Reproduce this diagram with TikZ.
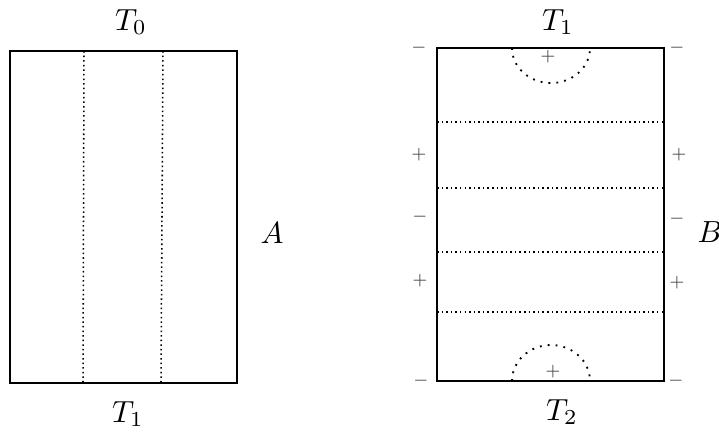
\documentclass[tikz,border=0pt]{standalone}
\usepackage{amsmath,amssymb}
\usepackage{tikz}

\begin{document}
\begin{tikzpicture}[
  x=0.0115cm, y=-0.0115cm,
  wall/.style={draw, line width=0.6pt},
  cut/.style={draw, densely dotted, line width=0.5pt},
  dome/.style={draw, dotted, line width=0.6pt},
  sgn/.style={font=\tiny, text=black!75, inner sep=0pt}]
  \useasboundingbox (0,0) rectangle (719,432);
  % left strip
  \draw[wall] (10,51) rectangle (237,383);
  \coordinate (a1) at (84,51);  \coordinate (a2) at (83,383);
  \coordinate (b1) at (163,51); \coordinate (b2) at (161,383);
  \draw[cut] (a1) -- (a2);
  \draw[cut] (b1) -- (b2);
  \node (t0) at (131,22) {$T_0$};
  \node (t1a) at (128,414) {$T_1$};
  \node (lA) at (272,233) {$A$};
  % right strip
  \draw[wall] (437,48) rectangle (664,381);
  \foreach \y/\n in {122/h1,188/h2,252/h3,312/h4} {
    \coordinate (\n l) at (437,\y);
    \coordinate (\n r) at (664,\y);
    \draw[cut] (\n l) -- (\n r);
  }
  \draw[dome] (512,48) arc[start angle=180, end angle=0, x radius=39, y radius=35];
  \draw[dome] (512,381) arc[start angle=180, end angle=360, x radius=39, y radius=36];
  \node[sgn] (pt) at (548,57) {$+$};
  \node[sgn] (pb) at (553,372) {$+$};
  \node (t1b) at (558,22) {$T_1$};
  \node (t2) at (562,412) {$T_2$};
  \node (lB) at (710,232) {$B$};
  % corner and side signs
  \node[sgn] (ctl) at (419,48) {$-$};
  \node[sgn] (ctr) at (677,48) {$-$};
  \node[sgn] (cbl) at (421,381) {$-$};
  \node[sgn] (cbr) at (676,381) {$-$};
  \node[sgn] (sl1) at (419,155) {$+$};
  \node[sgn] (sl2) at (420,217) {$-$};
  \node[sgn] (sl3) at (420,281) {$+$};
  \node[sgn] (sr1) at (679,155) {$+$};
  \node[sgn] (sr2) at (677,219) {$-$};
  \node[sgn] (sr3) at (677,283) {$+$};
\end{tikzpicture}
\end{document}
